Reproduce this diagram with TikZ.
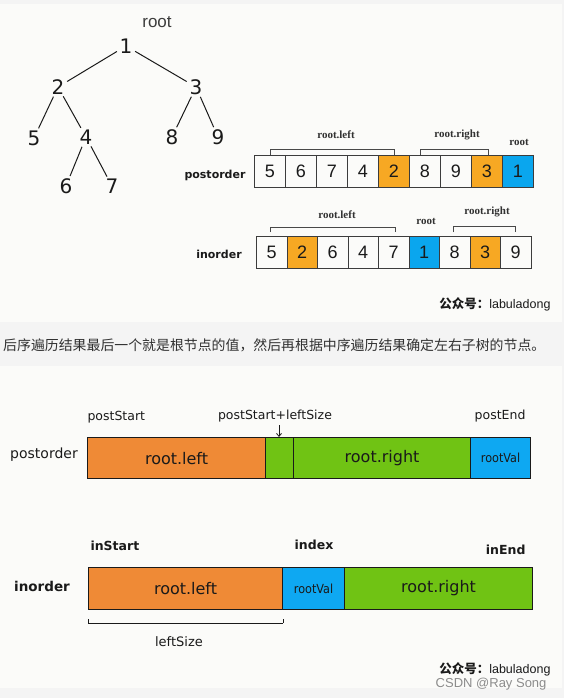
\documentclass[tikz,border=0pt]{standalone}
\usepackage{fontspec}
\setmainfont{Liberation Sans}
\newfontfamily\cjk{Noto Sans CJK SC}
\newfontfamily\hand{DejaVu Sans}
\newfontfamily\handc{DejaVu Sans Condensed}
\newfontfamily\serifb{Liberation Serif}
\usetikzlibrary{arrows.meta}
\definecolor{pagegray}{HTML}{F4F4F4}
\definecolor{panelbg}{HTML}{FBFBF9}
\definecolor{amber}{HTML}{F7A823}
\definecolor{cellblue}{HTML}{0AA6EE}
\definecolor{barorange}{HTML}{EF8A36}
\definecolor{bargreen}{HTML}{70C314}
\definecolor{barblue}{HTML}{0EA8F2}
\definecolor{ink}{HTML}{1A1A1A}
\newcommand{\fs}[1]{\fontsize{#1}{#1}\selectfont}
\begin{document}
\begin{tikzpicture}[x=1pt,y=-1pt,
  treenum/.style={circle,inner sep=0.5pt,font=\hand\fs{20},text=ink},
  cell/.style={draw=ink!85,line width=0.9pt,minimum width=#1,minimum height=32pt,inner sep=0pt,font=\fs{18},text=ink,anchor=north west},
  cell/.default=31pt,
  brlab/.style={font=\serifb\bfseries\fs{11},text=ink!90},
  brk/.style={draw=ink!80,line width=0.7pt},
  lab/.style={font=\hand\fs{12.5},text=ink},
  blab/.style={font=\hand\bfseries\fs{12.5},text=ink},
  bar/.style={draw=ink,line width=1.1pt,minimum height=41pt,inner sep=0pt,anchor=north west,font=\hand\fs{16},text=ink},
  edge/.style={ink,line width=1pt}]
\useasboundingbox (0,0) rectangle (564,698);
\fill[pagegray] (0,0) rectangle (564,698);
\fill[panelbg] (0,4) rectangle (562,322);
\fill[panelbg] (0,366) rectangle (562,688);
% ---------- tree
\node[font=\fs{17},text=ink!85] (rootlab) at (157,22) {root};
\node[treenum] (n1) at (126,46) {1};
\node[treenum] (n2) at (58,87) {2};
\node[treenum] (n3) at (196,87) {3};
\node[treenum] (n5) at (34,138) {5};
\node[treenum] (n4) at (86,137) {4};
\node[treenum] (n8) at (172,137) {8};
\node[treenum] (n9) at (218,137) {9};
\node[treenum] (n6) at (66,186) {6};
\node[treenum] (n7) at (112,186) {7};
\draw[edge] (n1) -- (n2);
\draw[edge] (n1) -- (n3);
\draw[edge] (n2) -- (n5);
\draw[edge] (n2) -- (n4);
\draw[edge] (n3) -- (n8);
\draw[edge] (n3) -- (n9);
\draw[edge] (n4) -- (n6);
\draw[edge] (n4) -- (n7);
% ---------- postorder array
\node[font=\hand\bfseries\fs{11},text=ink] (plab) at (215,175) {postorder};
\node[cell] (p1) at (254,155) {5};
\node[cell] (p2) at (285,155) {6};
\node[cell] (p3) at (316,155) {7};
\node[cell] (p4) at (347,155) {4};
\node[cell,fill=amber] (p5) at (378,155) {2};
\node[cell] (p6) at (409,155) {8};
\node[cell] (p7) at (440,155) {9};
\node[cell,fill=amber] (p8) at (471,155) {3};
\node[cell,fill=cellblue] (p9) at (502,155) {1};
\coordinate (pa1) at (270,155);
\coordinate (pa2) at (394,155);
\coordinate (pb1) at (420,155);
\coordinate (pb2) at (488,155);
\draw[brk] (pa1) -- ++(0,-6) -| (pa2);
\draw[brk] (pb1) -- ++(0,-6) -| (pb2);
\node[brlab] (plt) at (336,135) {root.left};
\node[brlab] (prt) at (457,135) {root.right};
\node[brlab] (prt2) at (519,142) {root};
% ---------- inorder array
\node[font=\hand\bfseries\fs{11},text=ink] (ilab) at (219,254) {inorder};
\node[cell=30.5pt] (i1) at (256,236) {5};
\node[cell=30.5pt,fill=amber] (i2) at (286.5,236) {2};
\node[cell=30.5pt] (i3) at (317,236) {6};
\node[cell=30.5pt] (i4) at (347.5,236) {4};
\node[cell=30.5pt] (i5) at (378,236) {7};
\node[cell=30.5pt,fill=cellblue] (i6) at (408.5,236) {1};
\node[cell=30.5pt] (i7) at (439,236) {8};
\node[cell=30.5pt,fill=amber] (i8) at (469.5,236) {3};
\node[cell=30.5pt] (i9) at (500,236) {9};
\coordinate (ia1) at (270,232);
\coordinate (ia2) at (395,232);
\coordinate (ib1) at (453,232);
\coordinate (ib2) at (515,232);
\draw[brk] (ia1) -- ++(0,-5) -| (ia2);
\draw[brk] (ib1) -- ++(0,-6) -| (ib2);
\node[brlab] (ilt) at (337,215) {root.left};
\node[brlab] (irt2) at (426,221) {root};
\node[brlab] (irt) at (487,212) {root.right};
% signature top
\node[anchor=east,font=\fs{12.5},text=ink] (sig1) at (554,304) {{\cjk\bfseries 公众号：}labuladong};
% ---------- caption line
\node[anchor=west,font=\cjk\fs{13.9},text=ink!90,inner sep=0pt] (cap) at (3,345) {后序遍历结果最后一个就是根节点的值，然后再根据中序遍历结果确定左右子树的节点。};
% ---------- postorder bar
\node[font=\hand\fs{14},text=ink] (pol) at (44,455) {postorder};
\node[lab,anchor=west] (ps) at (84,417) {postStart};
\node[lab] (psl) at (275,416) {postStart+leftSize};
\node[lab,anchor=east] (pe) at (529,416) {postEnd};
\node[bar,fill=barorange,minimum width=178pt] (b1) at (87,437) {root.left};
\node[bar,fill=bargreen,minimum width=28pt] (b2) at (265,437) {};
\node[bar,fill=bargreen,minimum width=177pt] (b3) at (293,437) {root.right};
\node[bar,fill=barblue,minimum width=60pt,font=\handc\fs{12.5}] (b4) at (470,437) {rootVal};
\coordinate (arrtop) at (279,425);
\draw[ink,line width=0.8pt,-{Straight Barb[length=3pt,width=5pt]}] (arrtop) -- (b2.north -| arrtop);
% ---------- inorder bar
\node[font=\hand\bfseries\fs{13.5},text=ink] (iol) at (42,586) {inorder};
\node[blab,anchor=west] (is) at (87,546) {inStart};
\node[blab] (ix) at (314,545) {index};
\node[blab,anchor=east] (ie) at (529,550) {inEnd};
\node[bar,fill=barorange,minimum width=194pt,minimum height=42pt] (c1) at (88,567) {root.left};
\node[bar,fill=barblue,minimum width=62pt,minimum height=42pt,font=\handc\fs{12.5}] (c2) at (282,567) {rootVal};
\node[bar,fill=bargreen,minimum width=188pt,minimum height=42pt] (c3) at (344,567) {root.right};
\coordinate (ls1) at (88,623);
\coordinate (ls2) at (283,623);
\draw[ink,line width=1pt] (ls1) -- (ls2);
\draw[ink,line width=1pt] (ls1) ++(0,-4) -- (ls1);
\draw[ink,line width=1pt] (ls2) ++(0,-4) -- (ls2);
\node[font=\hand\fs{13},text=ink] (lsz) at (179,642) {leftSize};
% signature bottom
\node[anchor=east,font=\fs{12.5},text=ink] (sig2) at (554,669) {{\cjk\bfseries 公众号：}labuladong};
\node[anchor=east,font=\fs{13},text=black!45] (csdn) at (550,684) {CSDN @Ray Song};
\end{tikzpicture}
\end{document}
